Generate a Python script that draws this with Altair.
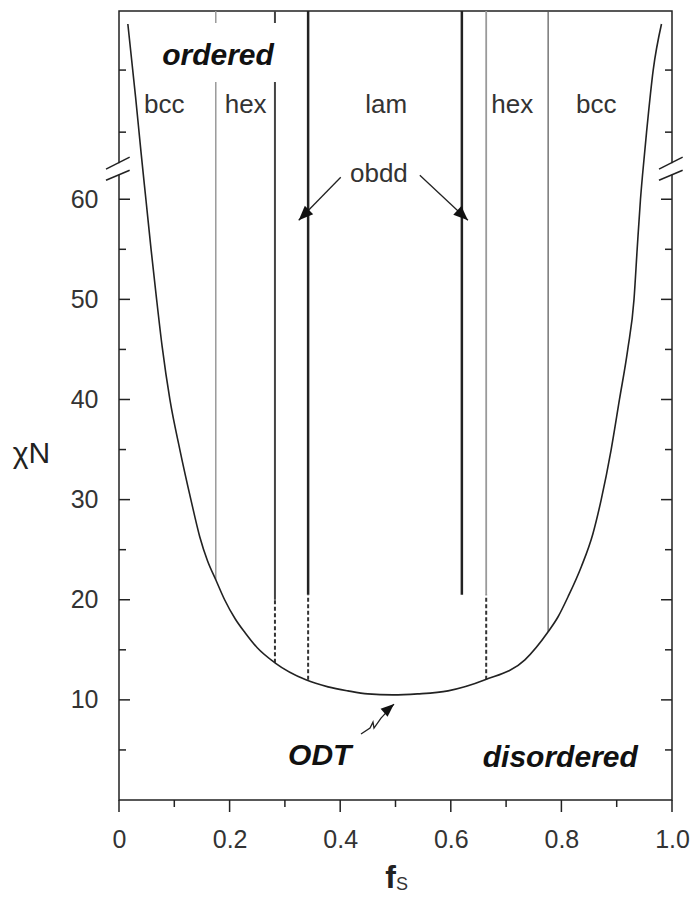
import altair as alt
import pandas as pd

# ---------------- data ----------------
# ODT curve (f_S, chiN); values above ~64 lie beyond the axis break
curve_f = [0.016, 0.030, 0.040, 0.049, 0.058, 0.067, 0.078, 0.092, 0.110, 0.130,
           0.146, 0.160, 0.175, 0.191, 0.210, 0.228, 0.250, 0.282, 0.338, 0.378,
           0.414, 0.450, 0.495, 0.540, 0.595, 0.662, 0.734, 0.776, 0.794, 0.812,
           0.836, 0.857, 0.872, 0.890, 0.905, 0.920, 0.9313, 0.937, 0.943, 0.947,
           0.954, 0.966, 0.981]
curve_chi = [77.5, 70.2, 64.6, 59.8, 55.0, 50.5, 45.3, 40.0, 35.0, 30.0,
             26.3, 23.9, 22.0, 20.0, 18.1, 16.7, 15.2, 13.7, 12.0, 11.3,
             10.9, 10.6, 10.5, 10.6, 10.9, 12.0, 14.0, 16.8, 18.3, 20.3,
             23.3, 26.6, 30.0, 35.0, 40.0, 45.0, 50.0, 55.0, 60.0, 62.6,
             66.7, 72.9, 77.5]

# solid phase boundaries
seg_f = [0.175, 0.175, 0.282, 0.282, 0.342, 0.620, 0.664, 0.776]
seg_lo = [22.0, 77.6, 20.0, 77.6, 20.5, 20.5, 20.5, 16.8]
seg_hi = [71.7, 78.8, 71.7, 78.8, 78.8, 78.8, 78.8, 78.8]
seg_color = ['#9a9a9a', '#9a9a9a', '#444444', '#444444', '#222222', '#222222', '#9a9a9a', '#555555']
seg_width = [1.5, 1.5, 2.0, 2.0, 2.5, 2.5, 1.8, 1.2]

# dashed (extrapolated) boundaries
dash_f = [0.282, 0.342, 0.664]
dash_lo = [13.7, 12.0, 12.0]
dash_hi = [20.0, 20.5, 20.5]

# axis ticks
x_major = [0.0, 0.2, 0.4, 0.6, 0.8, 1.0]
x_minor = [0.1, 0.3, 0.5, 0.7, 0.9]
y_major = [10, 20, 30, 40, 50, 60]
y_minor = [5, 15, 25, 35, 45, 55, 66.7, 72.9]

# axis break marks
brk_x0 = [-0.0235, -0.0235, 0.9765, 0.9765]
brk_x1 = [0.0193, 0.0193, 1.0193, 1.0193]
brk_y0 = [63.0, 61.9, 63.0, 61.9]
brk_y1 = [64.2, 62.9, 64.2, 62.9]
gap_x = [0.0, 1.0]
gap_lo = [62.45, 62.45]
gap_hi = [63.6, 63.6]

# labels
phase_text = ['bcc', 'hex', 'lam', 'hex', 'bcc', 'obdd']
phase_f = [0.082, 0.229, 0.483, 0.711, 0.863, 0.470]
phase_y = [68.6, 68.6, 68.6, 68.6, 68.6, 61.7]
region_text = ['ordered', 'ODT', 'disordered']
region_f = [0.179, 0.363, 0.798]
region_y = [73.4, 3.5, 3.3]

# arrows (shaft points, grouped by arrow id)
arrow_id = ['a', 'a', 'b', 'b', 'c', 'c', 'c', 'c', 'c', 'c']
arrow_f = [0.401, 0.325, 0.544, 0.631, 0.4376, 0.4539, 0.4593, 0.4611, 0.4738, 0.4973]
arrow_y = [62.2, 57.9, 62.4, 57.9, 6.59, 7.19, 7.78, 7.19, 8.18, 9.58]
head_f = [0.325, 0.631, 0.4973]
head_y = [57.9, 57.9, 9.58]
head_ang = [225, 133, 49]
head_size = [330, 330, 270]

# ---------------- chart ----------------
W, H = 553, 789
FONT = 'Liberation Sans'
XS = alt.Scale(domain=[0, 1], nice=False, zero=False)
YS = alt.Scale(domain=[0, 78.8], nice=False, zero=False)

AX_X = alt.Axis(values=x_major, labelExpr="datum.value == 0 ? '0' : format(datum.value, '.1f')",
                ticks=False, tickSize=0, domain=False, grid=False, labelPadding=27,
                labelFontSize=25, labelFont=FONT, labelColor='#333333', labelFlush=False,
                labelOverlap=False, title='f', titleFont=FONT, titleFontSize=32,
                titleFontWeight='bold', titleColor='#222222', titleX=271, titleY=87,
                titleAlign='center', titleBaseline='alphabetic')
AX_Y = alt.Axis(values=y_major, ticks=False, tickSize=0, domain=False, grid=False,
                labelPadding=21, labelFontSize=25, labelFont=FONT, labelColor='#333333',
                labelOverlap=False, title='χN', titleAngle=0, titleX=-88, titleY=442,
                titleAlign='center', titleBaseline='middle', titleFont=FONT,
                titleFontSize=30, titleFontWeight='normal', titleColor='#222222')


def X(f):
    return alt.X(f, type='quantitative', scale=XS, axis=AX_X)


def Y(f):
    return alt.Y(f, type='quantitative', scale=YS, axis=AX_Y)


curve_df = pd.DataFrame({'f': curve_f, 'chi': curve_chi, 'i': range(len(curve_f))})
curve = alt.Chart(curve_df).mark_line(color='#222222', strokeWidth=1.6, interpolate='monotone').encode(
    x=X('f'), y=Y('chi'), order='i:Q')

seg_df = pd.DataFrame({'f': seg_f, 'lo': seg_lo, 'hi': seg_hi, 'c': seg_color, 'w': seg_width})
segs = alt.Chart(seg_df).mark_rule().encode(
    x=X('f'), y=Y('lo'), y2='hi',
    color=alt.Color('c:N', scale=None), strokeWidth=alt.StrokeWidth('w:Q', scale=None))

dash_df = pd.DataFrame({'f': dash_f, 'lo': dash_lo, 'hi': dash_hi})
dashes = alt.Chart(dash_df).mark_rule(color='#333333', strokeWidth=2, strokeDash=[4, 2.5]).encode(
    x=X('f'), y=Y('lo'), y2='hi')

tick_style = dict(color='#222222', strokeWidth=1.5)
ymaj = pd.DataFrame({'v': y_major})
ymin = pd.DataFrame({'v': y_minor})
xmaj = pd.DataFrame({'v': x_major})
xmin = pd.DataFrame({'v': x_minor})
ticks = [
    alt.Chart(ymaj).mark_rule(**tick_style).encode(x=alt.value(0), x2=alt.value(11), y=Y('v')),
    alt.Chart(ymin).mark_rule(**tick_style).encode(x=alt.value(0), x2=alt.value(7), y=Y('v')),
    alt.Chart(ymaj).mark_rule(**tick_style).encode(x=alt.value(W), x2=alt.value(W - 11), y=Y('v')),
    alt.Chart(ymin).mark_rule(**tick_style).encode(x=alt.value(W), x2=alt.value(W - 7), y=Y('v')),
    alt.Chart(xmaj).mark_rule(**tick_style).encode(x=X('v'), y=alt.value(H), y2=alt.value(H + 12)),
    alt.Chart(xmin).mark_rule(**tick_style).encode(x=X('v'), y=alt.value(H), y2=alt.value(H + 7)),
]

gap_df = pd.DataFrame({'f': gap_x, 'lo': gap_lo, 'hi': gap_hi})
gaps = alt.Chart(gap_df).mark_rule(color='white', strokeWidth=5).encode(x=X('f'), y=Y('lo'), y2='hi')
brk_df = pd.DataFrame({'x0': brk_x0, 'x1': brk_x1, 'y0': brk_y0, 'y1': brk_y1})
breaks = alt.Chart(brk_df).mark_rule(color='#222222', strokeWidth=1.5).encode(
    x=X('x0'), x2='x1', y=Y('y0'), y2='y1')

phase_df = pd.DataFrame({'t': phase_text, 'f': phase_f, 'y': phase_y})
phase = alt.Chart(phase_df).mark_text(font=FONT, fontSize=26, color='#333333', align='center',
                                      baseline='alphabetic').encode(x=X('f'), y=Y('y'), text='t:N')
region_df = pd.DataFrame({'t': region_text, 'f': region_f, 'y': region_y})
region = alt.Chart(region_df).mark_text(font=FONT, fontSize=30, fontWeight='bold', fontStyle='italic',
                                        color='#111111', align='center', baseline='alphabetic').encode(
    x=X('f'), y=Y('y'), text='t:N')

arrow_df = pd.DataFrame({'id': arrow_id, 'f': arrow_f, 'y': arrow_y, 'i': range(len(arrow_f))})
arrows = alt.Chart(arrow_df).mark_line(color='#222222', strokeWidth=1.3).encode(
    x=X('f'), y=Y('y'), detail='id:N', order='i:Q')
head_df = pd.DataFrame({'f': head_f, 'y': head_y, 'a': head_ang, 's': head_size})
heads = alt.Chart(head_df).mark_point(shape='M0,0L-0.65,1.6L0.65,1.6Z', filled=True,
                                      color='#111111', opacity=1).encode(
    x=X('f'), y=Y('y'), angle=alt.Angle('a:Q', scale=None), size=alt.Size('s:Q', scale=None))

sub_df = pd.DataFrame({'t': ['S']})
sub = alt.Chart(sub_df).mark_text(font=FONT, fontSize=18, color='#333333', align='center',
                                  baseline='alphabetic').encode(
    x=alt.value(283), y=alt.value(H + 90), text='t:N')

chart = alt.layer(
    segs, dashes, curve, *ticks, gaps, breaks, phase, region, arrows, heads, sub
).properties(
    width=W, height=H,
    autosize=alt.AutoSizeParams(type='none'),
    padding={'left': 111, 'top': 3, 'right': 18, 'bottom': 94},
    background='white'
).configure_view(stroke='#222222', strokeWidth=1.5)

chart.save("out.html", embed_options={"renderer": "svg", "actions": False})
